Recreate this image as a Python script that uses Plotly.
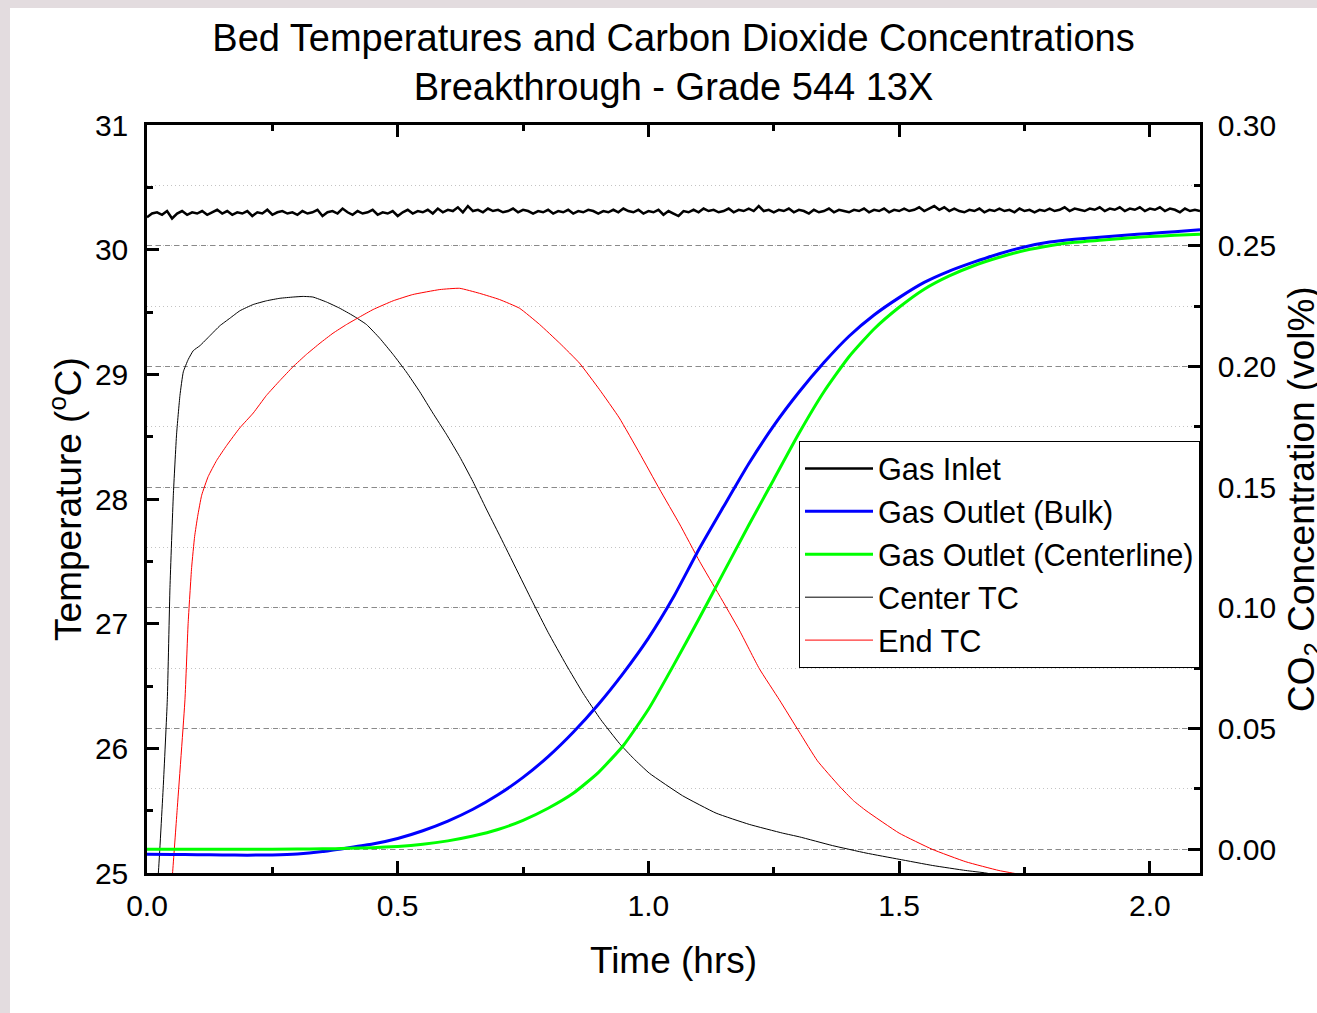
import plotly.graph_objects as go

# ---------------- data ----------------
inlet_time = [0.00, 0.01, 0.02, 0.03, 0.04, 0.05, 0.06, 0.07, 0.08, 0.09,
              0.10, 0.11, 0.12, 0.13, 0.14, 0.15, 0.16, 0.17, 0.18, 0.19,
              0.20, 0.21, 0.22, 0.23, 0.24, 0.25, 0.26, 0.27, 0.28, 0.29,
              0.30, 0.31, 0.32, 0.33, 0.34, 0.35, 0.36, 0.37, 0.38, 0.39,
              0.40, 0.41, 0.42, 0.43, 0.44, 0.45, 0.46, 0.47, 0.48, 0.49,
              0.50, 0.51, 0.52, 0.53, 0.54, 0.55, 0.56, 0.57, 0.58, 0.59,
              0.60, 0.61, 0.62, 0.63, 0.64, 0.65, 0.66, 0.67, 0.68, 0.69,
              0.70, 0.71, 0.72, 0.73, 0.74, 0.75, 0.76, 0.77, 0.78, 0.79,
              0.80, 0.81, 0.82, 0.83, 0.84, 0.85, 0.86, 0.87, 0.88, 0.89,
              0.90, 0.91, 0.92, 0.93, 0.94, 0.95, 0.96, 0.97, 0.98, 0.99,
              1.00, 1.01, 1.02, 1.03, 1.04, 1.05, 1.06, 1.07, 1.08, 1.09,
              1.10, 1.11, 1.12, 1.13, 1.14, 1.15, 1.16, 1.17, 1.18, 1.19,
              1.20, 1.21, 1.22, 1.23, 1.24, 1.25, 1.26, 1.27, 1.28, 1.29,
              1.30, 1.31, 1.32, 1.33, 1.34, 1.35, 1.36, 1.37, 1.38, 1.39,
              1.40, 1.41, 1.42, 1.43, 1.44, 1.45, 1.46, 1.47, 1.48, 1.49,
              1.50, 1.51, 1.52, 1.53, 1.54, 1.55, 1.56, 1.57, 1.58, 1.59,
              1.60, 1.61, 1.62, 1.63, 1.64, 1.65, 1.66, 1.67, 1.68, 1.69,
              1.70, 1.71, 1.72, 1.73, 1.74, 1.75, 1.76, 1.77, 1.78, 1.79,
              1.80, 1.81, 1.82, 1.83, 1.84, 1.85, 1.86, 1.87, 1.88, 1.89,
              1.90, 1.91, 1.92, 1.93, 1.94, 1.95, 1.96, 1.97, 1.98, 1.99,
              2.00, 2.01, 2.02, 2.03, 2.04, 2.05, 2.06, 2.07, 2.08, 2.09, 2.10]

gas_inlet_temp = [30.26, 30.29, 30.30, 30.28, 30.31, 30.25, 30.29, 30.31, 30.28, 30.30,
                  30.29, 30.31, 30.28, 30.30, 30.32, 30.29, 30.31, 30.28, 30.30, 30.29,
                  30.31, 30.27, 30.30, 30.29, 30.32, 30.28, 30.30, 30.31, 30.29, 30.30,
                  30.28, 30.31, 30.29, 30.30, 30.32, 30.27, 30.30, 30.31, 30.29, 30.33,
                  30.30, 30.28, 30.31, 30.29, 30.30, 30.32, 30.28, 30.30, 30.29, 30.31,
                  30.27, 30.30, 30.32, 30.29, 30.31, 30.30, 30.32, 30.29, 30.33, 30.30,
                  30.32, 30.31, 30.34, 30.30, 30.35, 30.31, 30.32, 30.30, 30.33, 30.31,
                  30.32, 30.30, 30.31, 30.33, 30.30, 30.32, 30.31, 30.29, 30.31, 30.30,
                  30.32, 30.29, 30.31, 30.30, 30.32, 30.29, 30.31, 30.30, 30.32, 30.31,
                  30.29, 30.31, 30.30, 30.32, 30.30, 30.33, 30.31, 30.30, 30.32, 30.29,
                  30.31, 30.30, 30.32, 30.28, 30.31, 30.29, 30.27, 30.31, 30.30, 30.32,
                  30.30, 30.33, 30.31, 30.32, 30.30, 30.31, 30.33, 30.30, 30.32, 30.31,
                  30.33, 30.31, 30.35, 30.31, 30.32, 30.30, 30.32, 30.31, 30.33, 30.30,
                  30.32, 30.31, 30.29, 30.32, 30.30, 30.31, 30.33, 30.30, 30.32, 30.31,
                  30.30, 30.32, 30.31, 30.33, 30.30, 30.32, 30.31, 30.33, 30.30, 30.32,
                  30.31, 30.33, 30.31, 30.32, 30.34, 30.31, 30.33, 30.35, 30.32, 30.34,
                  30.31, 30.33, 30.31, 30.30, 30.32, 30.31, 30.33, 30.30, 30.32, 30.31,
                  30.33, 30.31, 30.32, 30.30, 30.33, 30.31, 30.32, 30.30, 30.32, 30.31,
                  30.33, 30.31, 30.32, 30.34, 30.31, 30.33, 30.32, 30.31, 30.33, 30.32,
                  30.34, 30.31, 30.33, 30.32, 30.34, 30.31, 30.33, 30.32, 30.34, 30.31,
                  30.33, 30.32, 30.34, 30.31, 30.33, 30.32, 30.30, 30.33, 30.31, 30.32, 30.31]

bulk_time = [0.00, 0.05, 0.10, 0.15, 0.20, 0.25, 0.30, 0.35, 0.40, 0.45,
             0.50, 0.55, 0.60, 0.65, 0.70, 0.75, 0.80, 0.85, 0.90, 0.95,
             1.00, 1.05, 1.10, 1.15, 1.20, 1.25, 1.30, 1.35, 1.40, 1.45,
             1.50, 1.55, 1.60, 1.65, 1.70, 1.75, 1.80, 1.85, 1.90, 1.95,
             2.00, 2.05, 2.10]
bulk_co2 = [-0.0020, -0.0021, -0.0022, -0.0023, -0.0024, -0.0023, -0.0019, -0.0009, 0.0006, 0.0022,
            0.0045, 0.0077, 0.0117, 0.0166, 0.0226, 0.0298, 0.0384, 0.0485, 0.0600, 0.0730,
            0.0875, 0.1045, 0.1240, 0.1420, 0.1597, 0.1755, 0.1893, 0.2016, 0.2125, 0.2213,
            0.2285, 0.2348, 0.2395, 0.2433, 0.2467, 0.2495, 0.2515, 0.2527, 0.2535, 0.2543,
            0.2551, 0.2558, 0.2566]

centerline_time = [0.00, 0.10, 0.20, 0.30, 0.35, 0.40, 0.45, 0.50, 0.55, 0.60,
                   0.65, 0.70, 0.75, 0.80, 0.85, 0.90, 0.95, 1.00, 1.05, 1.10,
                   1.15, 1.20, 1.25, 1.30, 1.35, 1.40, 1.45, 1.50, 1.55, 1.60,
                   1.65, 1.70, 1.75, 1.80, 1.85, 1.90, 1.95, 2.00, 2.05, 2.10]
centerline_co2 = [0.0000, 0.0000, 0.0000, 0.0001, 0.0002, 0.0004, 0.0007, 0.0012, 0.0021, 0.0035,
                  0.0055, 0.0082, 0.0120, 0.0170, 0.0232, 0.0318, 0.0430, 0.0580, 0.0762, 0.0952,
                  0.1147, 0.1342, 0.1532, 0.1722, 0.1895, 0.2040, 0.2155, 0.2245, 0.2320, 0.2375,
                  0.2418, 0.2452, 0.2480, 0.2500, 0.2514, 0.2523, 0.2531, 0.2538, 0.2543, 0.2548]

center_tc_time = [0.018, 0.0226, 0.0325, 0.0405, 0.0458, 0.0525, 0.059, 0.0657, 0.0724, 0.0823,
                  0.0923, 0.1056, 0.1255, 0.1454, 0.1653, 0.1853, 0.2118, 0.2384, 0.265, 0.2915,
                  0.311, 0.331, 0.358, 0.3845, 0.411, 0.4376, 0.464, 0.4907, 0.517, 0.544,
                  0.570, 0.597, 0.6235, 0.650, 0.6767, 0.703, 0.7695, 0.800, 0.836, 0.870,
                  0.905, 0.942, 0.970, 1.002, 1.068, 1.135, 1.201, 1.2675, 1.301, 1.367,
                  1.434, 1.500, 1.567, 1.633, 1.673, 1.720]
center_tc_temp = [24.85, 25.00, 25.70, 26.39, 27.29, 28.03, 28.52, 28.83, 29.02, 29.12,
                  29.19, 29.23, 29.31, 29.39, 29.45, 29.51, 29.56, 29.59, 29.61, 29.62,
                  29.625, 29.62, 29.58, 29.53, 29.47, 29.40, 29.29, 29.16, 29.02, 28.86,
                  28.69, 28.52, 28.34, 28.14, 27.92, 27.71, 27.17, 26.93, 26.67, 26.44,
                  26.23, 26.04, 25.92, 25.80, 25.62, 25.48, 25.39, 25.32, 25.29, 25.22,
                  25.16, 25.11, 25.06, 25.02, 25.00, 24.96]

end_tc_time = [0.047, 0.051, 0.060, 0.0757, 0.082, 0.089, 0.095, 0.101, 0.109, 0.122,
               0.139, 0.159, 0.185, 0.212, 0.238, 0.265, 0.291, 0.318, 0.345, 0.371,
               0.398, 0.424, 0.451, 0.491, 0.530, 0.584, 0.6235, 0.663, 0.703, 0.743,
               0.783, 0.823, 0.8625, 0.902, 0.942, 0.982, 1.022, 1.062, 1.102, 1.141,
               1.181, 1.221, 1.261, 1.301, 1.337, 1.380, 1.409, 1.434, 1.500, 1.566,
               1.633, 1.699, 1.739, 1.760]
end_tc_temp = [24.80, 25.00, 25.50, 26.39, 27.00, 27.45, 27.70, 27.86, 28.03, 28.18,
               28.31, 28.43, 28.57, 28.69, 28.83, 28.95, 29.06, 29.16, 29.25, 29.33,
               29.40, 29.46, 29.52, 29.59, 29.64, 29.68, 29.69, 29.65, 29.60, 29.53,
               29.40, 29.25, 29.09, 28.88, 28.65, 28.37, 28.08, 27.80, 27.50, 27.23,
               26.95, 26.64, 26.39, 26.13, 25.90, 25.70, 25.58, 25.50, 25.32, 25.19,
               25.09, 25.02, 24.99, 24.97]

temp_ticks = [25, 26, 27, 28, 29, 30, 31]
co2_ticks = [0.00, 0.05, 0.10, 0.15, 0.20, 0.25, 0.30]
time_ticks = [0.0, 0.5, 1.0, 1.5, 2.0]

# ---------------- figure ----------------
FONT = "Arial, 'Liberation Sans', sans-serif"

fig = go.Figure()
fig.add_trace(go.Scatter(x=inlet_time, y=gas_inlet_temp, mode="lines", name="Gas Inlet",
                         line=dict(color="black", width=2.5), yaxis="y"))
fig.add_trace(go.Scatter(x=bulk_time, y=bulk_co2, mode="lines", name="Gas Outlet (Bulk)",
                         line=dict(color="#0000ff", width=3, shape="spline", smoothing=0.5), yaxis="y2"))
fig.add_trace(go.Scatter(x=centerline_time, y=centerline_co2, mode="lines", name="Gas Outlet (Centerline)",
                         line=dict(color="#00ff00", width=3, shape="spline", smoothing=0.5), yaxis="y2"))
fig.add_trace(go.Scatter(x=center_tc_time, y=center_tc_temp, mode="lines", name="Center TC",
                         line=dict(color="black", width=1, shape="spline", smoothing=0.4), yaxis="y"))
fig.add_trace(go.Scatter(x=end_tc_time, y=end_tc_temp, mode="lines", name="End TC",
                         line=dict(color="#ff0000", width=1, shape="spline", smoothing=0.4), yaxis="y"))

W, H = 1317, 1013
L, R, T, B = 147, 117, 125, 140
pw, ph = W - L - R, H - T - B

def px_x(p):
    return (p - L) / pw

def px_y(p):
    return (H - B - p) / ph

fig.update_layout(
    width=W, height=H, autosize=False,
    margin=dict(l=L, r=R, t=T, b=B, autoexpand=False),
    paper_bgcolor="#e3dcdf",
    plot_bgcolor="white",
    font=dict(family=FONT, color="black", size=30),
    title=dict(text="Bed Temperatures and Carbon Dioxide Concentrations<br>Breakthrough - Grade 544 13X",
               x=0.5, xref="paper", xanchor="center",
               y=1 - 51 / H, yref="container", yanchor="top",
               font=dict(size=38, family=FONT, color="black")),
    xaxis=dict(range=[0, 2.1], tickvals=time_ticks, tickformat=".1f", automargin=False,
               ticks="inside", ticklen=12, tickwidth=2.5, tickcolor="black",
               showline=True, linewidth=2.5, linecolor="black", mirror="ticks",
               showgrid=False, zeroline=False,
               ticklabelstandoff=4,
               tickfont=dict(size=30),
               minor=dict(dtick=0.25, tick0=0, ticks="inside", ticklen=6, tickwidth=2.5, tickcolor="black", showgrid=False),
               title=dict(text="Time (hrs)", font=dict(size=37), standoff=27)),
    yaxis=dict(range=[25, 31], tickvals=temp_ticks, automargin=False,
               ticks="inside", ticklen=12, tickwidth=2.5, tickcolor="black",
               showline=True, linewidth=2.5, linecolor="black", mirror=False,
               showgrid=False, zeroline=False,
               ticklabelstandoff=10,
               tickfont=dict(size=30),
               minor=dict(dtick=0.5, tick0=25, ticks="inside", ticklen=6, tickwidth=2.5, tickcolor="black", showgrid=False),
               title=dict(text="Temperature (<sup>o</sup>C)", font=dict(size=37), standoff=2)),
    yaxis2=dict(range=[-0.0098, 0.3], tickvals=co2_ticks, tickformat=".2f", automargin=False,
                overlaying="y", side="right",
                ticks="inside", ticklen=12, tickwidth=2.5, tickcolor="black",
                showline=True, linewidth=2.5, linecolor="black",
                showgrid=True, gridcolor="#8a8a8a", gridwidth=1, griddash="5px,4px",
                zeroline=False,
                ticklabelstandoff=9,
                tickfont=dict(size=30),
                minor=dict(dtick=0.025, tick0=0, ticks="inside", ticklen=6, tickwidth=2.5, tickcolor="black",
                           showgrid=True, gridcolor="#c4c4c4", gridwidth=1, griddash="1px,3px")),
    legend=dict(x=1, xanchor="right", y=px_y(441), yanchor="top",
                bgcolor="white", bordercolor="black", borderwidth=1,
                font=dict(size=30.7, family=FONT), itemwidth=68,
                tracegroupgap=0, traceorder="normal"),
    showlegend=True,
    annotations=[dict(text="CO<sub>2</sub> Concentration (vol%)", textangle=-90,
                      xref="paper", yref="paper", x=px_x(1304), y=0.5,
                      xanchor="center", yanchor="middle", showarrow=False,
                      font=dict(size=37, family=FONT, color="black"))],
    shapes=[dict(type="rect", xref="paper", yref="paper",
                 x0=px_x(10), x1=px_x(W + 20), y0=px_y(H + 20), y1=px_y(8),
                 fillcolor="white", line=dict(width=0), layer="below")],
)

fig.write_html("out.html",
               config={"displayModeBar": False},
               post_script="document.body.style.margin='0';document.body.style.overflow='hidden';"
                           "document.documentElement.style.overflow='hidden';")
